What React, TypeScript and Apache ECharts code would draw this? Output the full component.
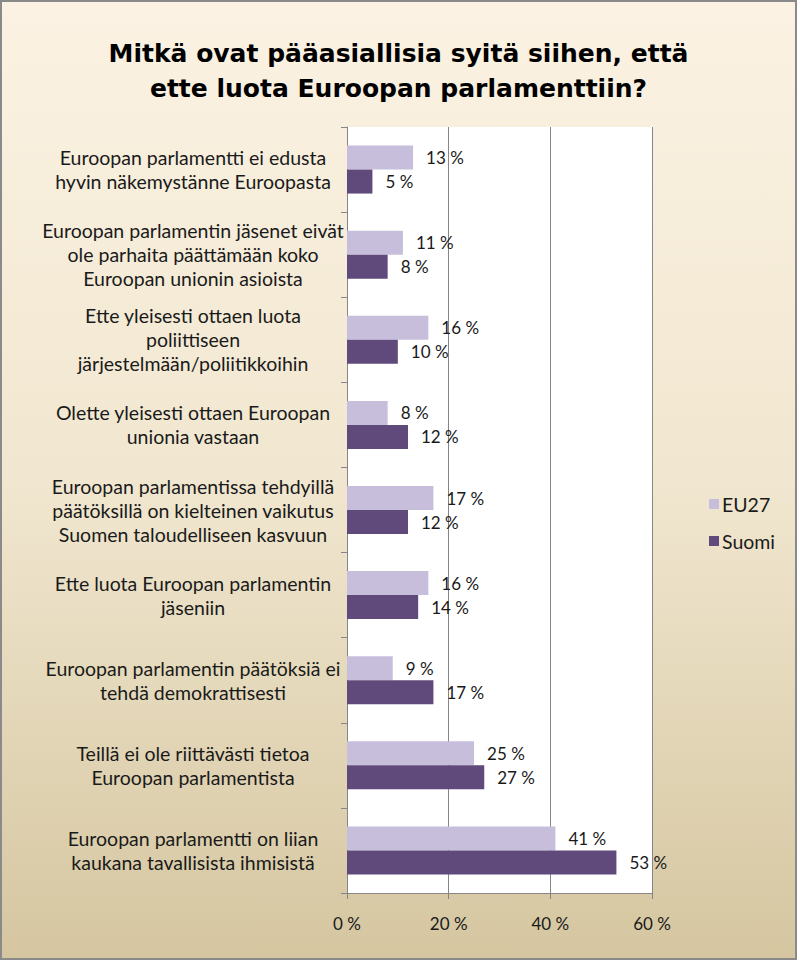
import React, { useEffect, useRef } from "react";
import * as echarts from "echarts";

const categories: string[] = [
  "Euroopan parlamentti ei edusta\nhyvin näkemystänne Euroopasta",
  "Euroopan parlamentin jäsenet eivät\nole parhaita päättämään koko\nEuroopan unionin asioista",
  "Ette yleisesti ottaen luota\npoliittiseen\njärjestelmään/poliitikkoihin",
  "Olette yleisesti ottaen Euroopan\nunionia vastaan",
  "Euroopan parlamentissa tehdyillä\npäätöksillä on kielteinen vaikutus\nSuomen taloudelliseen kasvuun",
  "Ette luota Euroopan parlamentin\njäseniin",
  "Euroopan parlamentin päätöksiä ei\ntehdä demokrattisesti",
  "Teillä ei ole riittävästi tietoa\nEuroopan parlamentista",
  "Euroopan parlamentti on liian\nkaukana tavallisista ihmisistä",
];

const eu27: number[] = [13, 11, 16, 8, 17, 16, 9, 25, 41];
const suomi: number[] = [5, 8, 10, 12, 12, 14, 17, 27, 53];

const seriesNames: string[] = ["EU27", "Suomi"];
const titleText = "Mitkä ovat pääasiallisia syitä siihen, että\nette luota Euroopan parlamenttiin?";

const FONT = "Lato";
const TXT = "#1a1a1a";

export default function App() {
  const ref = useRef<HTMLDivElement>(null);
  useEffect(() => {
    const chart = echarts.init(ref.current!, undefined, { renderer: "svg" });
    const label = {
      show: true,
      position: "right",
      distance: 13,
      formatter: "{c} %",
      color: TXT,
      fontFamily: FONT,
      fontSize: 17,
    };
    chart.setOption({
      animation: false,
      backgroundColor: {
        type: "linear",
        x: 0, y: 0, x2: 0, y2: 1,
        colorStops: [
          { offset: 0, color: "#FBF2E3" },
          { offset: 0.5, color: "#F1E7D0" },
          { offset: 1, color: "#D5C6A0" },
        ],
      },
      graphic: [
        {
          type: "rect",
          shape: { x: 1, y: 1, width: 795, height: 958 },
          style: { fill: "none", stroke: "#8a8a8a", lineWidth: 2 },
          silent: true,
        },
        {
          type: "rect",
          shape: { x: 347, y: 127, width: 305, height: 766 },
          style: { fill: "#ffffff" },
          z: -1,
          silent: true,
        },
      ],
      title: {
        text: titleText,
        left: "center",
        top: 31,
        textStyle: {
          fontFamily: "DejaVu Sans",
          fontWeight: "bold",
          fontSize: 25,
          lineHeight: 35,
          color: "#000",
        },
      },
      legend: {
        orient: "vertical",
        left: 704,
        top: 489,
        itemWidth: 10,
        itemHeight: 10,
        itemGap: 17,
        icon: "rect",
        data: seriesNames,
        textStyle: { fontFamily: FONT, fontSize: 19.5, color: TXT, padding: [0, 0, 0, -2] },
      },
      grid: { left: 347, right: 145, top: 127, bottom: 67, containLabel: false },
      xAxis: {
        type: "value",
        min: 0,
        max: 60,
        interval: 20,
        axisLine: { show: true, lineStyle: { color: "#868686" } },
        axisTick: { show: true, length: 6, lineStyle: { color: "#868686" } },
        splitLine: { show: true, lineStyle: { color: "#868686" } },
        axisLabel: {
          formatter: "{value} %",
          fontFamily: FONT,
          fontSize: 17,
          color: TXT,
          margin: 22,
        },
      },
      yAxis: {
        type: "category",
        inverse: true,
        data: categories,
        axisLine: { show: true, lineStyle: { color: "#868686" } },
        axisTick: { show: true, length: 6, lineStyle: { color: "#868686" } },
        axisLabel: {
          align: "center",
          margin: 154,
          fontFamily: FONT,
          fontSize: 19.5,
          lineHeight: 24,
          color: TXT,
        },
      },
      series: [
        {
          name: seriesNames[0],
          type: "bar",
          data: eu27,
          barWidth: 24,
          barGap: "0%",
          itemStyle: { color: "#C7BEDB" },
          label,
        },
        {
          name: seriesNames[1],
          type: "bar",
          data: suomi,
          barWidth: 24,
          barGap: "0%",
          itemStyle: { color: "#604A7B" },
          label,
        },
      ],
    });
    return () => chart.dispose();
  }, []);
  return (
    <div
      ref={ref}
      style={{ position: "absolute", left: 0, top: 0, width: 797, height: 960 }}
    />
  );
}
